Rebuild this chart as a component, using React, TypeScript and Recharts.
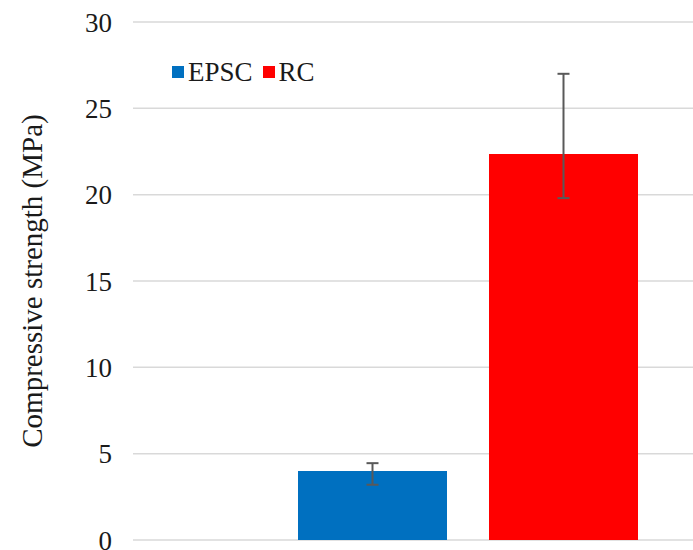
import { BarChart, Bar, XAxis, YAxis, CartesianGrid, ErrorBar } from 'recharts';

const categories = [''];
const epscValues = [4.0];
const rcValues = [22.35];
const epscErrors: [number, number][] = [[0.8, 0.45]];
const rcErrors: [number, number][] = [[2.55, 4.65]];
const yTicks = [0, 5, 10, 15, 20, 25, 30];

const seriesInfo = [
    { key: 'EPSC', color: '#0070c0' },
    { key: 'RC', color: '#ff0000' },
];

const data = categories.map((name, i) => ({
    name,
    EPSC: epscValues[i],
    RC: rcValues[i],
    epscErr: epscErrors[i],
    rcErr: rcErrors[i],
}));

const FONT = '"Liberation Serif", "Times New Roman", serif';
const TEXT = '#1a1a1a';

// legend drawn as overlay so the chart doesn't reserve space for it
function LegendBox() {
    return (
        <div style={{ position: 'absolute', left: 172, top: 55, display: 'flex', alignItems: 'center', fontFamily: FONT, fontSize: 27, color: TEXT, lineHeight: '34px' }}>
            {seriesInfo.map(s => (
                <span key={s.key} style={{ display: 'flex', alignItems: 'center', marginRight: 10 }}>
                    <span style={{ width: 12, height: 12, background: s.color, display: 'inline-block', marginRight: 4 }} />
                    {s.key}
                </span>
            ))}
        </div>
    );
}

export default function App() {
    return (
        <div style={{ position: 'absolute', left: 0, top: 0, width: 693, height: 550, overflow: 'hidden', background: '#fff' }}>
            <BarChart
                width={803}
                height={550}
                data={data}
                margin={{ top: 22, right: 0, bottom: 10, left: 0 }}
                barSize={149}
                barGap={42}
            >
                <CartesianGrid horizontal vertical={false} stroke="#d9d9d9" strokeWidth={1.5} />
                <XAxis dataKey="name" hide />
                <YAxis
                    width={133}
                    domain={[0, 30]}
                    ticks={yTicks}
                    interval={0}
                    axisLine={false}
                    tickLine={false}
                    tickMargin={15}
                    tick={{ fontFamily: FONT, fontSize: 27, fill: TEXT }}
                    label={{
                        value: 'Compressive strength (MPa)',
                        angle: -90,
                        position: 'insideLeft',
                        offset: 32,
                        style: { textAnchor: 'middle', fontFamily: FONT, fontSize: 29, fill: TEXT },
                    }}
                />
                <Bar dataKey="EPSC" fill={seriesInfo[0].color} isAnimationActive={false}>
                    <ErrorBar dataKey="epscErr" width={6} stroke="#595959" strokeWidth={2} direction="y" />
                </Bar>
                <Bar dataKey="RC" fill={seriesInfo[1].color} isAnimationActive={false}>
                    <ErrorBar dataKey="rcErr" width={6} stroke="#595959" strokeWidth={2} direction="y" />
                </Bar>
            </BarChart>
            <LegendBox />
        </div>
    );
}
